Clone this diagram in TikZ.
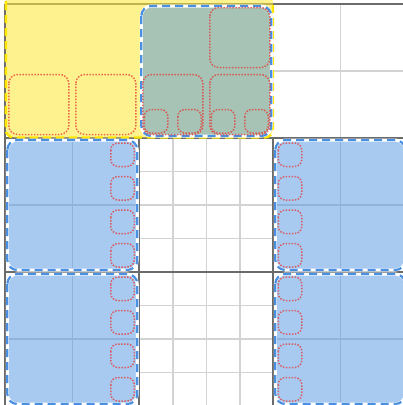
\documentclass[tikz,border=0pt]{standalone}
\usepackage{xcolor}
\usepackage{tikz}
\definecolor{gridmajor}{HTML}{6B6B6B}
\definecolor{gridminor}{HTML}{D3D3D3}
\definecolor{selyellow}{HTML}{FCE93A}
\definecolor{yellowedge}{HTML}{FFE600}
\definecolor{selblue}{HTML}{4A90E2}
\definecolor{slotred}{HTML}{E53935}

\begin{document}
\begin{tikzpicture}[x=1pt, y=-1pt,
  minorline/.style={gridminor, line width=1.6pt},
  majorline/.style={gridmajor, line width=2.2pt},
  bluefill/.style={fill=selblue, fill opacity=0.48, rounded corners=10pt},
  blueedge/.style={selblue, line width=2.2pt, dash pattern=on 8pt off 5pt, rounded corners=10pt},
  slotbig/.style={draw=slotred, draw opacity=0.75, line width=1.5pt, dash pattern=on 1.5pt off 1.5pt, rounded corners=9pt},
  slotsmall/.style={slotbig, rounded corners=7pt}]
  \useasboundingbox (0,0) rectangle (403,405);
  \clip (0,0) rectangle (403,405);
  \begin{scope}[shift={(5.3,4)}]
    % grid
    \foreach \c/\r in {2/0,0/1,2/1,0/2,2/2} {
      \draw[minorline] (134*\c+67,134*\r) -- ++(0,134);
      \draw[minorline] (134*\c,134*\r+67) -- ++(134,0);
    }
    \foreach \r in {1,2} \foreach \k in {1,2,3} {
      \draw[minorline] (134+33.5*\k,134*\r) -- ++(0,134);
      \draw[minorline] (134,134*\r+33.5*\k) -- ++(134,0);
    }
    \foreach \k in {0,...,3}
      \draw[majorline] (0,134*\k) -- (402,134*\k);
    \draw[majorline] (0,0) -- (0,402);
    \foreach \k in {1,2}
      \draw[majorline] (134*\k,134) -- (134*\k,402);
    % selections
    \fill[selyellow, fill opacity=0.58, rounded corners=8pt] (0.5,-10) rectangle (267.5,133.5);
    \draw[yellowedge, line width=2.4pt, dash pattern=on 8pt off 5pt, rounded corners=8pt] (0.5,-10) rectangle (267.5,133.5);
    \foreach \c/\r in {1/0,0/1,2/1,0/2,2/2} {
      \fill[bluefill] (134*\c+2,134*\r+2) rectangle ++(130,130);
      \draw[white, line width=3pt, rounded corners=10pt] (134*\c+2,134*\r+2) rectangle ++(130,130);
      \draw[blueedge] (134*\c+2,134*\r+2) rectangle ++(130,130);
    }
    % slots
    \foreach \c in {0,1}
      \draw[slotbig] (67*\c+3.5,70.5) rectangle ++(60,60);
    \foreach \c/\r in {1/0,0/1,1/1}
      \draw[slotbig] (134+67*\c+3.5,67*\r+3.5) rectangle ++(60,60);
    \foreach \k in {0,...,3}
      \draw[slotsmall] (134+33.5*\k+5,105.5) rectangle ++(23.5,23.5);
    \foreach \r in {1,2} \foreach \k in {0,...,3} {
      \draw[slotsmall] (105.5,134*\r+33.5*\k+5) rectangle ++(23.5,23.5);
      \draw[slotsmall] (273,134*\r+33.5*\k+5) rectangle ++(23.5,23.5);
    }
  \end{scope}
\end{tikzpicture}
\end{document}
